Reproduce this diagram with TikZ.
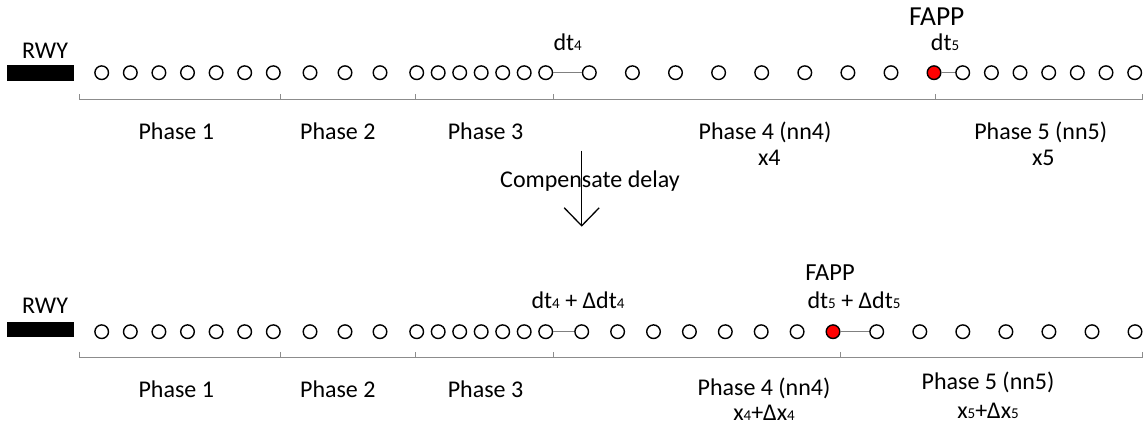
\documentclass[tikz,border=0pt]{standalone}
\usepackage{fontspec}
\setmainfont{Carlito}
\usetikzlibrary{arrows.meta}
% small digits sitting on the baseline
\newcommand\lowdig[1]{{\fontsize{15}{15}\selectfont #1}}
\tikzset{
  txt/.style={font=\fontsize{24}{28}\selectfont, inner sep=0pt, anchor=base},
  bigtxt/.style={font=\fontsize{27.5}{31}\selectfont, inner sep=0pt, anchor=base},
  midtxt/.style={font=\fontsize{24.5}{28}\selectfont, inner sep=0pt, anchor=base},
  wp/.style={circle, draw=black, line width=1.4pt, fill=white, minimum size=13.6pt, inner sep=0pt},
  fapp/.style={wp, fill=red},
  link/.style={draw=gray, line width=0.9pt},
  bracket/.style={draw=gray!90, line width=1pt},
  rwy/.style={fill=black},
}
\begin{document}
\begin{tikzpicture}[x=1pt, y=-1pt]
\useasboundingbox (0,0) rectangle (1147,432);

% ---------------- upper sequence ----------------
\fill[rwy] (7.3,65) rectangle (74,80.5);
\node[txt] (rwyT) at (45,58.3) {RWY};

\foreach \x [count=\i] in {101.7,130.3,158.9,187.5,216.1,244.7,273.3,
                           310,345,380,
                           416.7,438.2,459.7,481.2,502.7,524.2,545.7,
                           589.3,632.4,675.5,718.6,761.7,804.8,847.9,891.0}
  \node[wp] (t\i) at (\x,72.7) {};
\node[fapp] (t26) at (934,72.7) {};
\foreach \x [count=\i from 27] in {962.7,991.4,1020.0,1048.7,1077.3,1106.0,1134.7}
  \node[wp] (t\i) at (\x,72.7) {};

\draw[link] (t17) -- (t18);
\draw[link] (t26) -- (t27);

% phase bracket
\draw[bracket] (79.3,94) -- (79.3,99) -- (1142,99) -- (1142,94);
\foreach \x in {280,415,553.3,935}
  \draw[bracket] (\x,99) -- (\x,94);

\node[txt, anchor=base west] (dt4T) at (553.3,50) {dt\lowdig{4}};
\node[bigtxt] (fappT) at (936.7,25) {FAPP};
\node[txt, anchor=base west] (dt5T) at (930.7,50) {dt\lowdig{5}};

\node[txt] (p1T) at (176.3,139) {Phase 1};
\node[txt] (p2T) at (337.8,139) {Phase 2};
\node[txt] (p3T) at (485.5,139) {Phase 3};
\node[txt] (p4T) at (765,139) {Phase 4 (nn4)};
\node[txt] (x4T) at (769.3,165) {x4};
\node[txt] (p5T) at (1040.7,139) {Phase 5 (nn5)};
\node[txt] (x5T) at (1043.3,165) {x5};

% ---------------- transition ----------------
\node[txt] (comp) at (590,187.3) {Compensate delay};
\coordinate (arrS) at (581.7,150.7);
\coordinate (arrE) at (581.7,226.7);
\draw[line width=1.3pt, -{Straight Barb[length=18pt,width=35pt,line width=1.3pt]}] (arrS) -- (arrE);

% ---------------- lower sequence ----------------
\fill[rwy] (7.3,321.7) rectangle (74,337);
\node[txt] (rwyB) at (45,313.3) {RWY};

\foreach \x [count=\i] in {101.7,130.3,158.9,187.5,216.1,244.7,273.3,
                           310,345,380,
                           416.7,438.2,459.7,481.2,502.7,524.2,545.7,
                           581.7,617.6,653.5,689.4,725.3,761.2,797.1}
  \node[wp] (b\i) at (\x,331.7) {};
\node[fapp] (b25) at (833,331.7) {};
\foreach \x [count=\i from 26] in {876.7,919.8,962.8,1005.9,1048.9,1092.0,1135.0}
  \node[wp] (b\i) at (\x,331.7) {};

\draw[link] (b17) -- (b18);
\draw[link] (b25) -- (b26);

\draw[bracket] (79.3,351.7) -- (79.3,357.3) -- (1142,357.3) -- (1142,351.7);
\foreach \x in {280,415,553.3,840}
  \draw[bracket] (\x,357.3) -- (\x,351.7);

\node[txt] (dt4B) at (578,308.3) {dt\lowdig{4} + Δdt\lowdig{4}};
\node[midtxt] (fappB) at (830,280) {FAPP};
\node[txt] (dt5B) at (854,308.3) {dt\lowdig{5} + Δdt\lowdig{5}};

\node[txt] (p1B) at (176.3,397.3) {Phase 1};
\node[txt] (p2B) at (337.8,397.3) {Phase 2};
\node[txt] (p3B) at (485.5,397.3) {Phase 3};
\node[txt] (p4B) at (764,395.5) {Phase 4 (nn4)};
\node[txt] (x4B) at (764,420) {x\lowdig{4}+Δx\lowdig{4}};
\node[txt] (p5B) at (988,389) {Phase 5 (nn5)};
\node[txt] (x5B) at (988,418) {x\lowdig{5}+Δx\lowdig{5}};
\end{tikzpicture}
\end{document}
